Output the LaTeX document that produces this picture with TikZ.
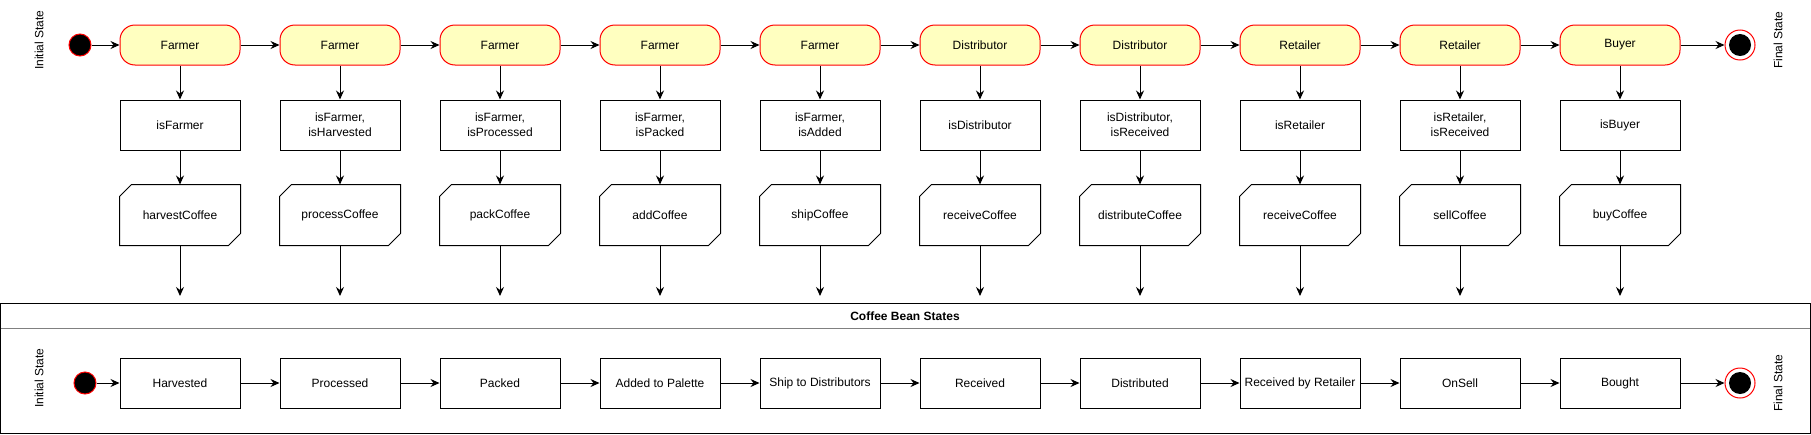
\documentclass[tikz,border=0pt]{standalone}
\usepackage{fontspec}
\setmainfont{Liberation Sans}
\usetikzlibrary{arrows.meta}
\definecolor{actorfill}{HTML}{FFFFC0}
\definecolor{headline}{HTML}{808080}

\begin{document}
\begin{tikzpicture}[x=1pt,y=-1pt,line width=1pt,font=\fontsize{12}{15}\selectfont,
	actor/.style={draw=red,fill=actorfill,rounded corners=15pt,minimum width=120pt,minimum height=40pt,inner sep=0pt},
	guard/.style={draw,minimum width=120pt,minimum height=50pt,inner sep=0pt,align=center},
	call/.style={minimum width=120pt,minimum height=60pt,inner sep=0pt},
	bean/.style={draw,minimum width=120pt,minimum height=50pt,inner sep=0pt},
	start/.style={circle,draw=red,fill=black,minimum size=22pt,inner sep=0pt},
	stop/.style={circle,draw=red,fill=white,minimum size=30pt,inner sep=0pt},
	flow/.style={-{Stealth[length=9pt,width=8pt,inset=3pt]}}]
		\useasboundingbox (0,0) rectangle (1811,434);

		% top row: who calls what
		\node[rotate=90] (initA) at (39,40) {Initial State};
		\node[start] (beginA) at (80,45) {};
		\node[stop] (endA) at (1740,45) {};
		\fill (endA) circle (11pt);
		\node[rotate=90] (finA) at (1778,40) {Final State};

		\foreach \who/\cond/\op [count=\i] in {
			Farmer/isFarmer/harvestCoffee,
			Farmer/{isFarmer,\\isHarvested}/processCoffee,
			Farmer/{isFarmer,\\isProcessed}/packCoffee,
			Farmer/{isFarmer,\\isPacked}/addCoffee,
			Farmer/{isFarmer,\\isAdded}/shipCoffee,
			Distributor/isDistributor/receiveCoffee,
			Distributor/{isDistributor,\\isReceived}/distributeCoffee,
			Retailer/isRetailer/receiveCoffee,
			Retailer/{isRetailer,\\isReceived}/sellCoffee,
			Buyer/isBuyer/buyCoffee}{
			\node[actor] (a\i) at ({160*\i+20},45) {\who};
			\node[guard] (c\i) at ({160*\i+20},125) {\cond};
			\node[call] (o\i) at ({160*\i+20},215) {\op};
			\draw ([xshift=12pt]o\i.north west) -- (o\i.north east) -- ([yshift=12pt]o\i.south east)
				-- ([xshift=-12pt]o\i.south east) -- (o\i.south west) -- ([yshift=-12pt]o\i.north west) -- cycle;
			\coordinate (e\i) at ({160*\i+20},296);
			\draw[flow] (a\i) -- (c\i);
			\draw[flow] (c\i) -- (o\i);
			\draw[flow] (o\i) -- (e\i);
		}
		\draw[flow] (beginA) -- (a1);
		\foreach \i [evaluate=\i as \j using int(\i+1)] in {1,...,9}
			\draw[flow] (a\i) -- (a\j);
		\draw[flow] (a10) -- (endA);

		% bottom frame: states of the bean
		\draw (0.5,303) rectangle (1810,433);
		\draw[headline] (0.5,328) -- (1810,328);
		\node[font=\fontsize{12}{15}\selectfont\bfseries] (title) at (905,316) {Coffee Bean States};

		\node[rotate=90] (initB) at (39,378) {Initial State};
		\node[start] (beginB) at (85,383) {};
		\node[stop] (endB) at (1740,383) {};
		\fill (endB) circle (11pt);
		\node[rotate=90] (finB) at (1778,383) {Final State};

		\foreach \st [count=\i] in {Harvested,Processed,Packed,Added to Palette,Ship to Distributors,
			Received,Distributed,Received by Retailer,OnSell,Bought}
			\node[bean] (s\i) at ({160*\i+20},383) {\st};
		\draw[flow] (beginB) -- (s1);
		\foreach \i [evaluate=\i as \j using int(\i+1)] in {1,...,9}
			\draw[flow] (s\i) -- (s\j);
		\draw[flow] (s10) -- (endB);
\end{tikzpicture}
\end{document}
